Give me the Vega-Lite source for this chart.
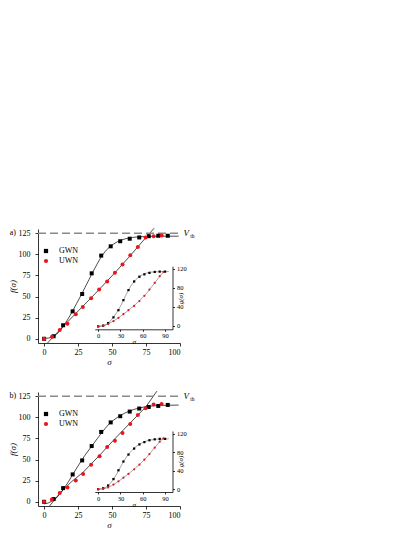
{
  "$schema": "https://vega.github.io/schema/vega-lite/v6.json",
  "background": "white",
  "padding": {"left": 8, "top": 226, "right": 5, "bottom": 5},
  "config": {
    "view": {"stroke": null},
    "font": "Liberation Serif",
    "axis": {"grid": false, "domainColor": "black", "tickColor": "black", "labelColor": "black", "titleColor": "black", "labelFont": "Liberation Serif", "titleFont": "Liberation Serif", "domainWidth": 0.8, "tickWidth": 0.8, "labelFontSize": 8, "titleFontSize": 9, "titleFontWeight": "normal", "tickSize": 3, "labelPadding": 2},
    "legend": {"labelFont": "Liberation Serif", "labelFontSize": 8, "labelColor": "black"}
  },
  "datasets": {
    "a_pts": [
      {"s": "GWN", "x": 0, "y": 0}, {"s": "GWN", "x": 7, "y": 3}, {"s": "GWN", "x": 14, "y": 16}, {"s": "GWN", "x": 21, "y": 32.5}, {"s": "GWN", "x": 28, "y": 53}, {"s": "GWN", "x": 35, "y": 77.5}, {"s": "GWN", "x": 42, "y": 98.5}, {"s": "GWN", "x": 49, "y": 109.5}, {"s": "GWN", "x": 56, "y": 115.5}, {"s": "GWN", "x": 63, "y": 118.5}, {"s": "GWN", "x": 70, "y": 120}, {"s": "GWN", "x": 77, "y": 121.5}, {"s": "GWN", "x": 84, "y": 122}, {"s": "GWN", "x": 91, "y": 122},
      {"s": "UWN", "x": 0, "y": 0}, {"s": "UWN", "x": 5.8, "y": 2.4}, {"s": "UWN", "x": 11.5, "y": 10.3}, {"s": "UWN", "x": 17.2, "y": 17.9}, {"s": "UWN", "x": 23.3, "y": 29}, {"s": "UWN", "x": 28.5, "y": 37.7}, {"s": "UWN", "x": 34.6, "y": 48}, {"s": "UWN", "x": 40.5, "y": 58.3}, {"s": "UWN", "x": 46.4, "y": 67.9}, {"s": "UWN", "x": 52.1, "y": 78.2}, {"s": "UWN", "x": 57.7, "y": 88.1}, {"s": "UWN", "x": 63.4, "y": 98.8}, {"s": "UWN", "x": 69, "y": 108.7}, {"s": "UWN", "x": 74.7, "y": 119.8}, {"s": "UWN", "x": 80.6, "y": 121.4}, {"s": "UWN", "x": 86.5, "y": 122.2}
    ],
    "a_fit": [
      {"s": "GWN", "x": 0, "y": 0.3}, {"s": "GWN", "x": 3, "y": 0.8}, {"s": "GWN", "x": 6, "y": 2}, {"s": "GWN", "x": 9, "y": 5}, {"s": "GWN", "x": 12, "y": 10}, {"s": "GWN", "x": 15, "y": 17}, {"s": "GWN", "x": 18, "y": 24.5}, {"s": "GWN", "x": 21, "y": 33}, {"s": "GWN", "x": 24, "y": 42}, {"s": "GWN", "x": 27, "y": 51}, {"s": "GWN", "x": 30, "y": 60.5}, {"s": "GWN", "x": 33, "y": 70}, {"s": "GWN", "x": 36, "y": 79.5}, {"s": "GWN", "x": 39, "y": 88.5}, {"s": "GWN", "x": 42, "y": 97}, {"s": "GWN", "x": 45, "y": 103.5}, {"s": "GWN", "x": 48, "y": 108.5}, {"s": "GWN", "x": 51, "y": 112}, {"s": "GWN", "x": 54, "y": 115}, {"s": "GWN", "x": 57, "y": 117}, {"s": "GWN", "x": 60, "y": 118.5}, {"s": "GWN", "x": 65, "y": 120}, {"s": "GWN", "x": 70, "y": 120.8}, {"s": "GWN", "x": 80, "y": 121.3}, {"s": "GWN", "x": 90, "y": 121.5}, {"s": "GWN", "x": 99, "y": 121.5},
      {"s": "UWN", "x": 2.5, "y": -5}, {"s": "UWN", "x": 11.5, "y": 10.5}, {"s": "UWN", "x": 20, "y": 24.5}, {"s": "UWN", "x": 28.5, "y": 38.5}, {"s": "UWN", "x": 40, "y": 57.5}, {"s": "UWN", "x": 52, "y": 78}, {"s": "UWN", "x": 63.4, "y": 98.5}, {"s": "UWN", "x": 74.7, "y": 119.5}, {"s": "UWN", "x": 81, "y": 131}
    ],
    "a_ipts": [
      {"s": "GWN", "x": 0, "y": -1}, {"s": "GWN", "x": 6.7, "y": 0.7}, {"s": "GWN", "x": 13.4, "y": 6}, {"s": "GWN", "x": 20.6, "y": 18}, {"s": "GWN", "x": 27.3, "y": 33}, {"s": "GWN", "x": 34, "y": 54}, {"s": "GWN", "x": 40.8, "y": 75}, {"s": "GWN", "x": 48.4, "y": 93}, {"s": "GWN", "x": 55.5, "y": 103}, {"s": "GWN", "x": 62.2, "y": 108}, {"s": "GWN", "x": 69, "y": 111}, {"s": "GWN", "x": 76.1, "y": 113}, {"s": "GWN", "x": 82.8, "y": 113.7}, {"s": "GWN", "x": 90, "y": 113.7},
      {"s": "UWN", "x": 0, "y": -1}, {"s": "UWN", "x": 6.7, "y": 0.5}, {"s": "UWN", "x": 13.4, "y": 4}, {"s": "UWN", "x": 20.6, "y": 10}, {"s": "UWN", "x": 27.3, "y": 17}, {"s": "UWN", "x": 34, "y": 24.5}, {"s": "UWN", "x": 40.8, "y": 33}, {"s": "UWN", "x": 48.4, "y": 42}, {"s": "UWN", "x": 55.5, "y": 52}, {"s": "UWN", "x": 62.2, "y": 63}, {"s": "UWN", "x": 69, "y": 76}, {"s": "UWN", "x": 76.1, "y": 90}, {"s": "UWN", "x": 82.8, "y": 104}, {"s": "UWN", "x": 87.8, "y": 113}
    ],
    "a_ifit": [
      {"s": "GWN", "x": 0, "y": -1}, {"s": "GWN", "x": 5, "y": 0}, {"s": "GWN", "x": 10, "y": 2.5}, {"s": "GWN", "x": 15, "y": 8}, {"s": "GWN", "x": 20, "y": 17}, {"s": "GWN", "x": 25, "y": 28}, {"s": "GWN", "x": 30, "y": 41}, {"s": "GWN", "x": 35, "y": 57}, {"s": "GWN", "x": 40, "y": 73}, {"s": "GWN", "x": 45, "y": 86}, {"s": "GWN", "x": 50, "y": 96}, {"s": "GWN", "x": 55, "y": 103}, {"s": "GWN", "x": 60, "y": 107.5}, {"s": "GWN", "x": 65, "y": 110.5}, {"s": "GWN", "x": 70, "y": 112.5}, {"s": "GWN", "x": 80, "y": 113.5}, {"s": "GWN", "x": 95, "y": 113.7},
      {"s": "UWN", "x": 0, "y": -1}, {"s": "UWN", "x": 6, "y": 0}, {"s": "UWN", "x": 12, "y": 3}, {"s": "UWN", "x": 18, "y": 8}, {"s": "UWN", "x": 24, "y": 13.5}, {"s": "UWN", "x": 30, "y": 20}, {"s": "UWN", "x": 36, "y": 27}, {"s": "UWN", "x": 42, "y": 34.5}, {"s": "UWN", "x": 48, "y": 42}, {"s": "UWN", "x": 54, "y": 50.5}, {"s": "UWN", "x": 60, "y": 59.5}, {"s": "UWN", "x": 66, "y": 70}, {"s": "UWN", "x": 72, "y": 82}, {"s": "UWN", "x": 78, "y": 94}, {"s": "UWN", "x": 84, "y": 106}, {"s": "UWN", "x": 89, "y": 114}
    ],
    "b_pts": [
      {"s": "GWN", "x": 0, "y": 0}, {"s": "GWN", "x": 7, "y": 3.2}, {"s": "GWN", "x": 14, "y": 16.2}, {"s": "GWN", "x": 21, "y": 32.4}, {"s": "GWN", "x": 28, "y": 49}, {"s": "GWN", "x": 35, "y": 66}, {"s": "GWN", "x": 42, "y": 82.7}, {"s": "GWN", "x": 49, "y": 94}, {"s": "GWN", "x": 56, "y": 101.3}, {"s": "GWN", "x": 63, "y": 106.8}, {"s": "GWN", "x": 70, "y": 110.4}, {"s": "GWN", "x": 77, "y": 112.3}, {"s": "GWN", "x": 84, "y": 113.5}, {"s": "GWN", "x": 91, "y": 114.7},
      {"s": "UWN", "x": 0, "y": 0}, {"s": "UWN", "x": 5.7, "y": 2.8}, {"s": "UWN", "x": 11.5, "y": 10.3}, {"s": "UWN", "x": 17.2, "y": 17}, {"s": "UWN", "x": 23.3, "y": 25.3}, {"s": "UWN", "x": 28.7, "y": 32.8}, {"s": "UWN", "x": 34.6, "y": 43.9}, {"s": "UWN", "x": 40.8, "y": 53.8}, {"s": "UWN", "x": 46.4, "y": 64.9}, {"s": "UWN", "x": 52.1, "y": 72.4}, {"s": "UWN", "x": 57.7, "y": 81.5}, {"s": "UWN", "x": 63.4, "y": 92.2}, {"s": "UWN", "x": 69, "y": 102.8}, {"s": "UWN", "x": 74.7, "y": 110.8}, {"s": "UWN", "x": 80.6, "y": 115.1}, {"s": "UWN", "x": 86.5, "y": 115.9}
    ],
    "b_fit": [
      {"s": "GWN", "x": 0, "y": -2.5}, {"s": "GWN", "x": 3, "y": -1.5}, {"s": "GWN", "x": 6, "y": 1}, {"s": "GWN", "x": 9, "y": 4.5}, {"s": "GWN", "x": 12, "y": 10}, {"s": "GWN", "x": 15, "y": 16.5}, {"s": "GWN", "x": 18, "y": 24}, {"s": "GWN", "x": 21, "y": 32}, {"s": "GWN", "x": 24, "y": 40}, {"s": "GWN", "x": 27, "y": 47.5}, {"s": "GWN", "x": 30, "y": 55}, {"s": "GWN", "x": 33, "y": 61.5}, {"s": "GWN", "x": 36, "y": 68}, {"s": "GWN", "x": 39, "y": 74.5}, {"s": "GWN", "x": 42, "y": 81}, {"s": "GWN", "x": 45, "y": 87}, {"s": "GWN", "x": 48, "y": 92.5}, {"s": "GWN", "x": 51, "y": 96.5}, {"s": "GWN", "x": 54, "y": 100}, {"s": "GWN", "x": 57, "y": 103}, {"s": "GWN", "x": 60, "y": 105.5}, {"s": "GWN", "x": 63, "y": 107.5}, {"s": "GWN", "x": 66, "y": 109.3}, {"s": "GWN", "x": 70, "y": 111}, {"s": "GWN", "x": 75, "y": 112.7}, {"s": "GWN", "x": 80, "y": 113.6}, {"s": "GWN", "x": 90, "y": 114.3}, {"s": "GWN", "x": 99, "y": 114.5},
      {"s": "UWN", "x": 4, "y": -5}, {"s": "UWN", "x": 11.5, "y": 10}, {"s": "UWN", "x": 20, "y": 23.5}, {"s": "UWN", "x": 28.7, "y": 35}, {"s": "UWN", "x": 40.8, "y": 55}, {"s": "UWN", "x": 52, "y": 74.5}, {"s": "UWN", "x": 63.4, "y": 93.5}, {"s": "UWN", "x": 74.7, "y": 112}, {"s": "UWN", "x": 83, "y": 131}
    ],
    "b_ipts": [
      {"s": "GWN", "x": 0, "y": 0}, {"s": "GWN", "x": 6.7, "y": 2}, {"s": "GWN", "x": 13.4, "y": 8}, {"s": "GWN", "x": 20.6, "y": 22}, {"s": "GWN", "x": 27.3, "y": 41}, {"s": "GWN", "x": 34, "y": 60}, {"s": "GWN", "x": 40.8, "y": 75}, {"s": "GWN", "x": 48.4, "y": 88}, {"s": "GWN", "x": 55.5, "y": 97}, {"s": "GWN", "x": 62.2, "y": 102}, {"s": "GWN", "x": 69, "y": 106}, {"s": "GWN", "x": 76.1, "y": 108}, {"s": "GWN", "x": 82.8, "y": 109}, {"s": "GWN", "x": 90, "y": 109},
      {"s": "UWN", "x": 0, "y": 0}, {"s": "UWN", "x": 6.7, "y": 1}, {"s": "UWN", "x": 13.4, "y": 4}, {"s": "UWN", "x": 20.6, "y": 10}, {"s": "UWN", "x": 27.3, "y": 17}, {"s": "UWN", "x": 34, "y": 25}, {"s": "UWN", "x": 40.8, "y": 33}, {"s": "UWN", "x": 48.4, "y": 43}, {"s": "UWN", "x": 55.5, "y": 53}, {"s": "UWN", "x": 62.2, "y": 64}, {"s": "UWN", "x": 69, "y": 76}, {"s": "UWN", "x": 76.1, "y": 90}, {"s": "UWN", "x": 82.8, "y": 103}, {"s": "UWN", "x": 87.8, "y": 110}
    ],
    "b_ifit": [
      {"s": "GWN", "x": 0, "y": 0}, {"s": "GWN", "x": 5, "y": 1}, {"s": "GWN", "x": 10, "y": 4}, {"s": "GWN", "x": 15, "y": 10}, {"s": "GWN", "x": 20, "y": 20}, {"s": "GWN", "x": 25, "y": 33}, {"s": "GWN", "x": 30, "y": 48}, {"s": "GWN", "x": 35, "y": 62}, {"s": "GWN", "x": 40, "y": 74}, {"s": "GWN", "x": 45, "y": 83.5}, {"s": "GWN", "x": 50, "y": 91}, {"s": "GWN", "x": 55, "y": 97}, {"s": "GWN", "x": 60, "y": 101}, {"s": "GWN", "x": 65, "y": 104.5}, {"s": "GWN", "x": 70, "y": 106.5}, {"s": "GWN", "x": 80, "y": 108.5}, {"s": "GWN", "x": 95, "y": 109},
      {"s": "UWN", "x": 0, "y": 0}, {"s": "UWN", "x": 6, "y": 0.5}, {"s": "UWN", "x": 12, "y": 3}, {"s": "UWN", "x": 18, "y": 7.5}, {"s": "UWN", "x": 24, "y": 13.5}, {"s": "UWN", "x": 30, "y": 20}, {"s": "UWN", "x": 36, "y": 27.5}, {"s": "UWN", "x": 42, "y": 35}, {"s": "UWN", "x": 48, "y": 43}, {"s": "UWN", "x": 54, "y": 51.5}, {"s": "UWN", "x": 60, "y": 60.5}, {"s": "UWN", "x": 66, "y": 70.5}, {"s": "UWN", "x": 72, "y": 82}, {"s": "UWN", "x": 78, "y": 94}, {"s": "UWN", "x": 84, "y": 105}, {"s": "UWN", "x": 88, "y": 110}
    ],
    "labels": [
      {"panel": "a", "tag": "a)"},
      {"panel": "b", "tag": "b)"}
    ]
  },
  "spacing": 49,
  "bounds": "flush",
  "resolve": {"scale": {"color": "independent", "shape": "independent"}, "legend": {"color": "independent", "shape": "independent"}},
  "vconcat": [
    {
      "width": 142, "height": 114,
      "resolve": {"scale": {"x": "independent", "y": "independent"}, "axis": {"x": "independent", "y": "independent"}},
      "layer": [
        {
          "layer": [
            {"data": {"name": "a_fit"}, "mark": {"type": "line", "color": "black", "strokeWidth": 0.7},
             "encoding": {
               "x": {"field": "x", "type": "quantitative", "scale": {"domain": [-4.5, 100], "nice": false, "zero": false}, "axis": {"values": [0, 25, 50, 75, 100], "title": "σ", "titleFontStyle": "italic", "titlePadding": 1}},
               "y": {"field": "y", "type": "quantitative", "scale": {"domain": [-5, 130], "nice": false, "zero": false}, "axis": {"values": [0, 25, 50, 75, 100, 125], "title": "f(σ)", "titleFontStyle": "italic", "titlePadding": 0.5, "labelPadding": 5}},
               "detail": {"field": "s"}}},
            {"data": {"name": "labels"}, "transform": [{"filter": "datum.panel == 'a'"}], "mark": {"type": "rule", "color": "#8a8a8a", "strokeDash": [8, 4], "strokeWidth": 1.6},
             "encoding": {
               "x": {"datum": -4.5, "type": "quantitative", "scale": {"domain": [-4.5, 100], "nice": false, "zero": false}, "axis": {"values": [0, 25, 50, 75, 100], "title": "σ", "titleFontStyle": "italic", "titlePadding": 1}},
               "x2": {"datum": 99},
               "y": {"datum": 125, "type": "quantitative", "scale": {"domain": [-5, 130], "nice": false, "zero": false}, "axis": {"values": [0, 25, 50, 75, 100, 125], "title": "f(σ)", "titleFontStyle": "italic", "titlePadding": 0.5, "labelPadding": 5}}}},
            {"data": {"name": "a_pts"}, "mark": {"type": "point", "filled": true, "opacity": 1, "size": 16, "strokeWidth": 0},
             "encoding": {
               "x": {"field": "x", "type": "quantitative", "scale": {"domain": [-4.5, 100], "nice": false, "zero": false}, "axis": {"values": [0, 25, 50, 75, 100], "title": "σ", "titleFontStyle": "italic", "titlePadding": 1}},
               "y": {"field": "y", "type": "quantitative", "scale": {"domain": [-5, 130], "nice": false, "zero": false}, "axis": {"values": [0, 25, 50, 75, 100, 125], "title": "f(σ)", "titleFontStyle": "italic", "titlePadding": 0.5, "labelPadding": 5}},
               "color": {"field": "s", "type": "nominal", "scale": {"domain": ["GWN", "UWN"], "range": ["black", "#e8161c"]}, "legend": {"title": null, "orient": "none", "legendX": 4, "legendY": 18, "padding": 0, "rowPadding": 2, "labelOffset": 9, "symbolSize": 18, "symbolStrokeWidth": 0}},
               "shape": {"field": "s", "type": "nominal", "scale": {"domain": ["GWN", "UWN"], "range": ["square", "circle"]}, "legend": {"title": null, "orient": "none", "legendX": 4, "legendY": 18, "padding": 0, "rowPadding": 2, "labelOffset": 9, "symbolSize": 18, "symbolStrokeWidth": 0}}
             }},
            {"data": {"name": "labels"}, "transform": [{"filter": "datum.panel == 'a'"}], "mark": {"type": "text", "fontSize": 9, "fontStyle": "italic", "align": "left", "baseline": "middle", "font": "Liberation Serif"},
             "encoding": {
               "x": {"datum": 102.5, "type": "quantitative", "scale": {"domain": [-4.5, 100], "nice": false, "zero": false}, "axis": {"values": [0, 25, 50, 75, 100], "title": "σ", "titleFontStyle": "italic", "titlePadding": 1}},
               "y": {"datum": 125, "type": "quantitative", "scale": {"domain": [-5, 130], "nice": false, "zero": false}, "axis": {"values": [0, 25, 50, 75, 100, 125], "title": "f(σ)", "titleFontStyle": "italic", "titlePadding": 0.5, "labelPadding": 5}},
               "text": {"value": "V"}}},
            {"data": {"name": "labels"}, "transform": [{"filter": "datum.panel == 'a'"}], "mark": {"type": "text", "fontSize": 5.5, "align": "left", "baseline": "middle", "font": "Liberation Serif"},
             "encoding": {
               "x": {"datum": 107.5, "type": "quantitative", "scale": {"domain": [-4.5, 100], "nice": false, "zero": false}, "axis": {"values": [0, 25, 50, 75, 100], "title": "σ", "titleFontStyle": "italic", "titlePadding": 1}},
               "y": {"datum": 121.5, "type": "quantitative", "scale": {"domain": [-5, 130], "nice": false, "zero": false}, "axis": {"values": [0, 25, 50, 75, 100, 125], "title": "f(σ)", "titleFontStyle": "italic", "titlePadding": 0.5, "labelPadding": 5}},
               "text": {"value": "th"}}},
            {"data": {"name": "labels"}, "transform": [{"filter": "datum.panel == 'a'"}], "mark": {"type": "text", "fontSize": 8, "align": "center", "baseline": "middle", "font": "Liberation Serif"},
             "encoding": {
               "x": {"datum": -23, "type": "quantitative", "scale": {"domain": [-4.5, 100], "nice": false, "zero": false}, "axis": {"values": [0, 25, 50, 75, 100], "title": "σ", "titleFontStyle": "italic", "titlePadding": 1}},
               "y": {"datum": 125, "type": "quantitative", "scale": {"domain": [-5, 130], "nice": false, "zero": false}, "axis": {"values": [0, 25, 50, 75, 100, 125], "title": "f(σ)", "titleFontStyle": "italic", "titlePadding": 0.5, "labelPadding": 5}},
               "text": {"field": "tag"}}}
          ]
        },
        {
          "encoding": {
            "x": {"field": "x", "type": "quantitative", "scale": {"domain": [-4.5, 100], "nice": false, "zero": false, "range": [56.8, 134.5]}, "axis": {"orient": "bottom", "offset": -13.7, "values": [0, 30, 60, 90], "title": "σ", "titleFontStyle": "italic", "labelFontSize": 6.5, "titleFontSize": 7, "tickSize": 2, "labelPadding": 1, "titlePadding": -1}},
            "y": {"field": "y", "type": "quantitative", "scale": {"domain": [-7, 125], "nice": false, "zero": false, "range": [100.3, 37.2]}, "axis": {"orient": "right", "offset": -7.5, "values": [0, 40, 80, 120], "title": "g(σ)", "titleFontStyle": "italic", "labelFontSize": 6.5, "titleFontSize": 7, "tickSize": 2, "labelPadding": 2, "titleAngle": -90, "titleX": 8, "titleY": 69, "titleBaseline": "middle"}}
          },
          "layer": [
            {"data": {"name": "a_ifit"}, "mark": {"type": "line", "color": "#6a6a6a", "strokeWidth": 0.6}, "encoding": {"detail": {"field": "s"}}},
            {"data": {"name": "a_ipts"}, "mark": {"type": "point", "filled": true, "opacity": 1, "size": 5, "strokeWidth": 0},
             "encoding": {
               "color": {"field": "s", "type": "nominal"},
               "shape": {"field": "s", "type": "nominal"}
             }}
          ]
        }
      ]
    },
    {
      "width": 142, "height": 114,
      "resolve": {"scale": {"x": "independent", "y": "independent"}, "axis": {"x": "independent", "y": "independent"}},
      "layer": [
        {
          "layer": [
            {"data": {"name": "b_fit"}, "mark": {"type": "line", "color": "black", "strokeWidth": 0.7},
             "encoding": {
               "x": {"field": "x", "type": "quantitative", "scale": {"domain": [-4.5, 100], "nice": false, "zero": false}, "axis": {"values": [0, 25, 50, 75, 100], "title": "σ", "titleFontStyle": "italic", "titlePadding": 1}},
               "y": {"field": "y", "type": "quantitative", "scale": {"domain": [-5, 130], "nice": false, "zero": false}, "axis": {"values": [0, 25, 50, 75, 100, 125], "title": "f(σ)", "titleFontStyle": "italic", "titlePadding": 0.5, "labelPadding": 5}},
               "detail": {"field": "s"}}},
            {"data": {"name": "labels"}, "transform": [{"filter": "datum.panel == 'b'"}], "mark": {"type": "rule", "color": "#8a8a8a", "strokeDash": [8, 4], "strokeWidth": 1.6},
             "encoding": {
               "x": {"datum": -4.5, "type": "quantitative", "scale": {"domain": [-4.5, 100], "nice": false, "zero": false}, "axis": {"values": [0, 25, 50, 75, 100], "title": "σ", "titleFontStyle": "italic", "titlePadding": 1}},
               "x2": {"datum": 99},
               "y": {"datum": 125, "type": "quantitative", "scale": {"domain": [-5, 130], "nice": false, "zero": false}, "axis": {"values": [0, 25, 50, 75, 100, 125], "title": "f(σ)", "titleFontStyle": "italic", "titlePadding": 0.5, "labelPadding": 5}}}},
            {"data": {"name": "b_pts"}, "mark": {"type": "point", "filled": true, "opacity": 1, "size": 16, "strokeWidth": 0},
             "encoding": {
               "x": {"field": "x", "type": "quantitative", "scale": {"domain": [-4.5, 100], "nice": false, "zero": false}, "axis": {"values": [0, 25, 50, 75, 100], "title": "σ", "titleFontStyle": "italic", "titlePadding": 1}},
               "y": {"field": "y", "type": "quantitative", "scale": {"domain": [-5, 130], "nice": false, "zero": false}, "axis": {"values": [0, 25, 50, 75, 100, 125], "title": "f(σ)", "titleFontStyle": "italic", "titlePadding": 0.5, "labelPadding": 5}},
               "color": {"field": "s", "type": "nominal", "scale": {"domain": ["GWN", "UWN"], "range": ["black", "#e8161c"]}, "legend": {"title": null, "orient": "none", "legendX": 4, "legendY": 18, "padding": 0, "rowPadding": 2, "labelOffset": 9, "symbolSize": 18, "symbolStrokeWidth": 0}},
               "shape": {"field": "s", "type": "nominal", "scale": {"domain": ["GWN", "UWN"], "range": ["square", "circle"]}, "legend": {"title": null, "orient": "none", "legendX": 4, "legendY": 18, "padding": 0, "rowPadding": 2, "labelOffset": 9, "symbolSize": 18, "symbolStrokeWidth": 0}}
             }},
            {"data": {"name": "labels"}, "transform": [{"filter": "datum.panel == 'b'"}], "mark": {"type": "text", "fontSize": 9, "fontStyle": "italic", "align": "left", "baseline": "middle", "font": "Liberation Serif"},
             "encoding": {
               "x": {"datum": 102.5, "type": "quantitative", "scale": {"domain": [-4.5, 100], "nice": false, "zero": false}, "axis": {"values": [0, 25, 50, 75, 100], "title": "σ", "titleFontStyle": "italic", "titlePadding": 1}},
               "y": {"datum": 125, "type": "quantitative", "scale": {"domain": [-5, 130], "nice": false, "zero": false}, "axis": {"values": [0, 25, 50, 75, 100, 125], "title": "f(σ)", "titleFontStyle": "italic", "titlePadding": 0.5, "labelPadding": 5}},
               "text": {"value": "V"}}},
            {"data": {"name": "labels"}, "transform": [{"filter": "datum.panel == 'b'"}], "mark": {"type": "text", "fontSize": 5.5, "align": "left", "baseline": "middle", "font": "Liberation Serif"},
             "encoding": {
               "x": {"datum": 107.5, "type": "quantitative", "scale": {"domain": [-4.5, 100], "nice": false, "zero": false}, "axis": {"values": [0, 25, 50, 75, 100], "title": "σ", "titleFontStyle": "italic", "titlePadding": 1}},
               "y": {"datum": 121.5, "type": "quantitative", "scale": {"domain": [-5, 130], "nice": false, "zero": false}, "axis": {"values": [0, 25, 50, 75, 100, 125], "title": "f(σ)", "titleFontStyle": "italic", "titlePadding": 0.5, "labelPadding": 5}},
               "text": {"value": "th"}}},
            {"data": {"name": "labels"}, "transform": [{"filter": "datum.panel == 'b'"}], "mark": {"type": "text", "fontSize": 8, "align": "center", "baseline": "middle", "font": "Liberation Serif"},
             "encoding": {
               "x": {"datum": -23, "type": "quantitative", "scale": {"domain": [-4.5, 100], "nice": false, "zero": false}, "axis": {"values": [0, 25, 50, 75, 100], "title": "σ", "titleFontStyle": "italic", "titlePadding": 1}},
               "y": {"datum": 125, "type": "quantitative", "scale": {"domain": [-5, 130], "nice": false, "zero": false}, "axis": {"values": [0, 25, 50, 75, 100, 125], "title": "f(σ)", "titleFontStyle": "italic", "titlePadding": 0.5, "labelPadding": 5}},
               "text": {"field": "tag"}}}
          ]
        },
        {
          "encoding": {
            "x": {"field": "x", "type": "quantitative", "scale": {"domain": [-4.5, 100], "nice": false, "zero": false, "range": [56.8, 134.5]}, "axis": {"orient": "bottom", "offset": -14, "values": [0, 30, 60, 90], "title": "σ", "titleFontStyle": "italic", "labelFontSize": 6.5, "titleFontSize": 7, "tickSize": 2, "labelPadding": 1, "titlePadding": -1}},
            "y": {"field": "y", "type": "quantitative", "scale": {"domain": [-6, 126], "nice": false, "zero": false, "range": [100, 39]}, "axis": {"orient": "right", "offset": -7.5, "values": [0, 40, 80, 120], "title": "g(σ)", "titleFontStyle": "italic", "labelFontSize": 6.5, "titleFontSize": 7, "tickSize": 2, "labelPadding": 2, "titleAngle": -90, "titleX": 8, "titleY": 69, "titleBaseline": "middle"}}
          },
          "layer": [
            {"data": {"name": "b_ifit"}, "mark": {"type": "line", "color": "#6a6a6a", "strokeWidth": 0.6}, "encoding": {"detail": {"field": "s"}}},
            {"data": {"name": "b_ipts"}, "mark": {"type": "point", "filled": true, "opacity": 1, "size": 5, "strokeWidth": 0},
             "encoding": {
               "color": {"field": "s", "type": "nominal"},
               "shape": {"field": "s", "type": "nominal"}
             }}
          ]
        }
      ]
    }
  ]
}
